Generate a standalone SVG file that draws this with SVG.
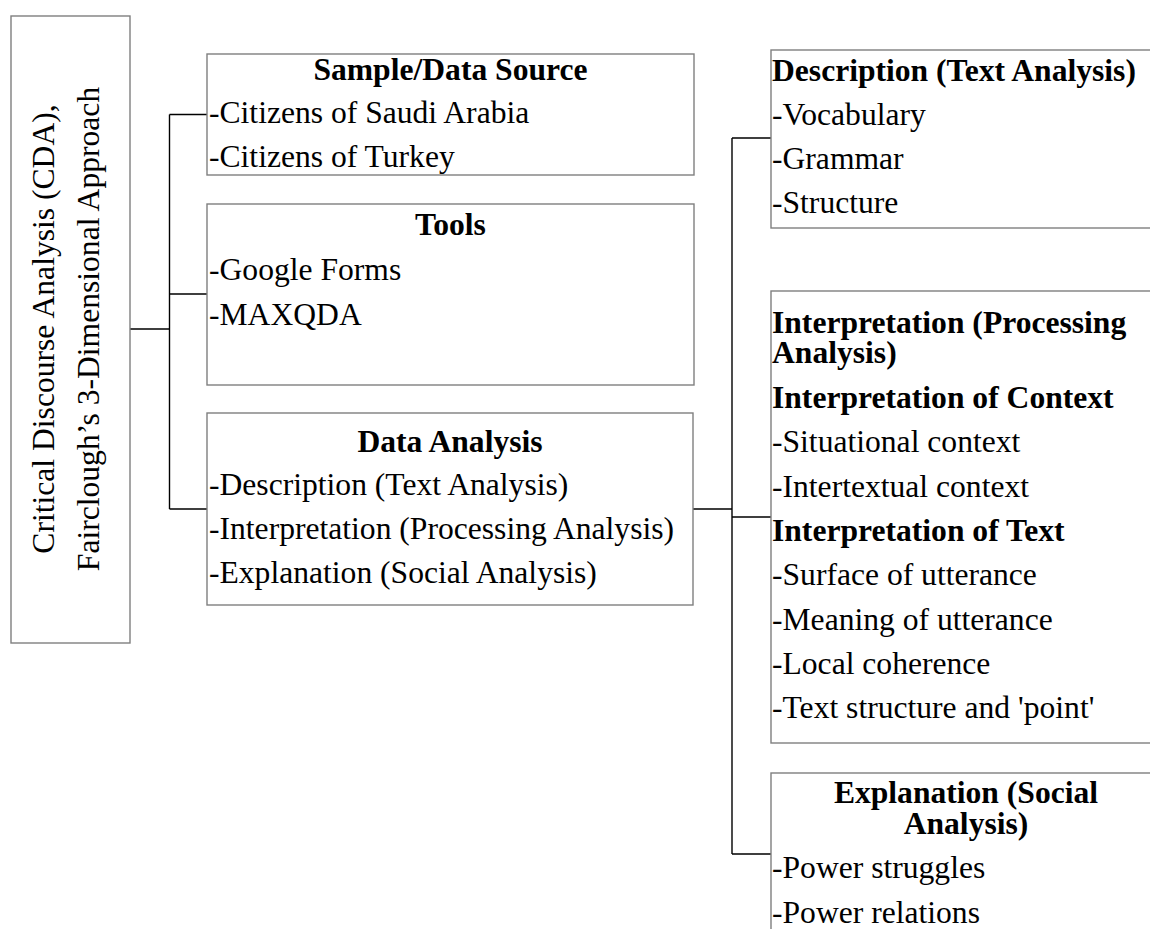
<svg xmlns="http://www.w3.org/2000/svg" width="1150" height="929" viewBox="0 0 1150 929">
<style>
  .box { fill: #ffffff; stroke: #7f7f7f; stroke-width: 1.4; }
  .conn { fill: none; stroke: #000000; stroke-width: 1.4; }
  text { font-family: "Liberation Serif", "Times New Roman", serif; font-size: 31.6px; fill: #000000; }
  .b { font-weight: bold; }
  .c { text-anchor: middle; }
</style>
<rect width="1150" height="929" fill="#ffffff"/>

<g id="connectors">
  <path class="conn" d="M130,329 H169.5 M169.5,114.5 V509 M169.5,114.5 H207 M169.5,294 H207 M169.5,509 H207"/>
  <path class="conn" d="M693,509 H732 M732,138 V854 M732,138 H771 M732,517 H771 M732,854 H771"/>
</g>

<g id="root">
  <rect class="box" x="11" y="16" width="119" height="627"/>
  <text class="c" transform="translate(53.5,329) rotate(-90)">Critical Discourse Analysis (CDA),</text>
  <text class="c" transform="translate(99,329) rotate(-90)">Fairclough’s 3-Dimensional Approach</text>
</g>

<g id="sample">
  <rect class="box" x="207" y="54" width="487" height="121"/>
  <text class="b c" x="450.5" y="80">Sample/Data Source</text>
  <text x="209" y="123">-Citizens of Saudi Arabia</text>
  <text x="209" y="167">-Citizens of Turkey</text>
</g>

<g id="tools">
  <rect class="box" x="207" y="204" width="487" height="181"/>
  <text class="b c" x="450.5" y="235">Tools</text>
  <text x="209" y="280">-Google Forms</text>
  <text x="209" y="325">-MAXQDA</text>
</g>

<g id="data-analysis">
  <rect class="box" x="207" y="413" width="486" height="192"/>
  <text class="b c" x="450" y="452">Data Analysis</text>
  <text x="209" y="495">-Description (Text Analysis)</text>
  <text x="209" y="539">-Interpretation (Processing Analysis)</text>
  <text x="209" y="583">-Explanation (Social Analysis)</text>
</g>

<g id="description">
  <rect class="box" x="771" y="50" width="391" height="178"/>
  <text class="b" x="772" y="81">Description (Text Analysis)</text>
  <text x="772" y="125">-Vocabulary</text>
  <text x="772" y="169">-Grammar</text>
  <text x="772" y="213">-Structure</text>
</g>

<g id="interpretation">
  <rect class="box" x="771" y="291" width="391" height="452"/>
  <text class="b" x="772" y="333">Interpretation (Processing</text>
  <text class="b" x="772" y="363">Analysis)</text>
  <text class="b" x="772" y="408">Interpretation of Context</text>
  <text x="772" y="452">-Situational context</text>
  <text x="772" y="497">-Intertextual context</text>
  <text class="b" x="772" y="541">Interpretation of Text</text>
  <text x="772" y="585">-Surface of utterance</text>
  <text x="772" y="630">-Meaning of utterance</text>
  <text x="772" y="674">-Local coherence</text>
  <text x="772" y="718">-Text structure and 'point'</text>
</g>

<g id="explanation">
  <rect class="box" x="771" y="773" width="391" height="200"/>
  <text class="b c" x="966" y="803">Explanation (Social</text>
  <text class="b c" x="966" y="834">Analysis)</text>
  <text x="772" y="878">-Power struggles</text>
  <text x="772" y="923">-Power relations</text>
</g>
</svg>
